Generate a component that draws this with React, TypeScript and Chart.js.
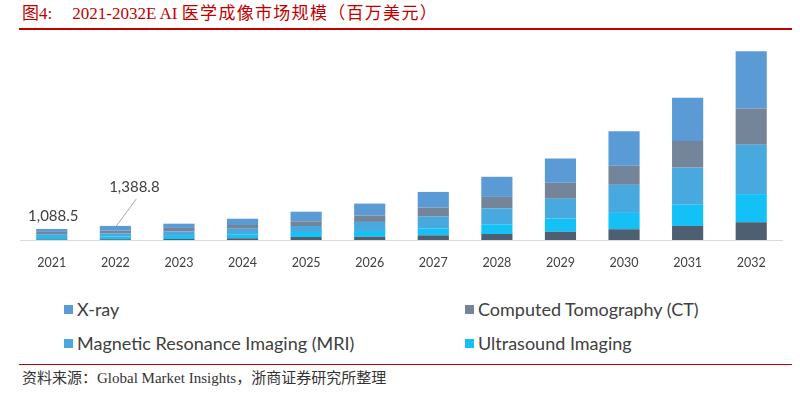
import React, { useEffect, useRef } from "react";
import { Chart, registerables } from "chart.js";

Chart.register(...registerables);

const years = ["2021", "2022", "2023", "2024", "2025", "2026", "2027", "2028", "2029", "2030", "2031", "2032"];
const others = [60, 80, 100, 170, 300, 330, 460, 590, 820, 1060, 1390, 1750];
const ultrasound = [240, 260, 300, 350, 490, 560, 690, 960, 1290, 1610, 2080, 2770];
const mri = [270, 320, 430, 590, 590, 890, 1150, 1580, 1950, 2770, 3660, 4880];
const ct = [230, 270, 360, 370, 460, 620, 890, 1120, 1580, 1880, 2640, 3560];
const xray = [288.5, 458.8, 420, 620, 950, 1190, 1550, 1980, 2400, 3400, 4260, 5640];

const legendNames = ["X-ray", "Computed Tomography (CT)", "Magnetic Resonance Imaging (MRI)", "Ultrasound Imaging"];
const legendColors = ["#5b9bd5", "#748599", "#48a9df", "#13c1f7"];
const othersColor = "#4d5f71";
const labeledIndexes = [0, 1];

const titleLabel = "图4:";
const titleLatin = "2021-2032E AI ";
const titleCjk = "医学成像市场规模（百万美元）";
const sourceText = "资料来源：Global Market Insights，浙商证券研究所整理";

const totals = years.map((_, i) => others[i] + ultrasound[i] + mri[i] + ct[i] + xray[i]);

const fmt = (v: number) =>
  v.toLocaleString("en-US", { minimumFractionDigits: 1, maximumFractionDigits: 1 });

const labelPlugin = {
  id: "totalLabels",
  afterDatasetsDraw(chart: any) {
    const ctx = chart.ctx;
    const xs = chart.scales.x;
    const ys = chart.scales.y;
    ctx.save();
    ctx.font = "15px Lato";
    ctx.fillStyle = "#404040";
    ctx.textAlign = "center";
    ctx.textBaseline = "middle";
    labeledIndexes.forEach((i, k) => {
      const x = xs.getPixelForValue(i);
      const top = ys.getPixelForValue(totals[i]);
      if (k === 0) {
        ctx.fillText(fmt(totals[i]), x + 1.5, top - 13);
      } else {
        ctx.strokeStyle = "#a6a6a6";
        ctx.lineWidth = 1;
        ctx.beginPath();
        ctx.moveTo(x + 1, top);
        ctx.lineTo(x + 21, top - 27);
        ctx.stroke();
        ctx.fillText(fmt(totals[i]), x + 19, top - 39);
      }
    });
    ctx.restore();
  },
};

function ChartBox() {
  const ref = useRef<HTMLCanvasElement | null>(null);
  useEffect(() => {
    if (!ref.current) return;
    const ds = (label: string, data: number[], color: string) => ({
      label,
      data,
      backgroundColor: color,
      borderWidth: 0,
      categoryPercentage: 1,
      barPercentage: 0.49,
    });
    const chart = new Chart(ref.current, {
      type: "bar",
      data: {
        labels: years,
        datasets: [
          ds("Others", others, othersColor),
          ds(legendNames[3], ultrasound, legendColors[3]),
          ds(legendNames[2], mri, legendColors[2]),
          ds(legendNames[1], ct, legendColors[1]),
          ds(legendNames[0], xray, legendColors[0]),
        ],
      },
      options: {
        animation: false,
        responsive: false,
        maintainAspectRatio: false,
        layout: { padding: 0 },
        plugins: { legend: { display: false }, tooltip: { enabled: false } },
        scales: {
          x: {
            stacked: true,
            grid: { display: false, drawTicks: false, tickLength: 0 },
            border: { display: true, color: "#d9d9d9", width: 1 },
            ticks: { color: "#404040", font: { family: "Lato", size: 12.5 }, padding: 15 },
          },
          y: {
            stacked: true,
            display: false,
            min: 0,
            max: 20700,
          },
        },
      },
      plugins: [labelPlugin],
    });
    return () => chart.destroy();
  }, []);
  return (
    <canvas
      ref={ref}
      width={763}
      height={255}
      style={{ position: "absolute", left: 20, top: 30, width: 763, height: 255 }}
    />
  );
}

export default function App() {
  const legendPos = [
    { left: 64, top: 299 },
    { left: 465, top: 299 },
    { left: 64, top: 333 },
    { left: 465, top: 333 },
  ];
  const serif = "'Liberation Serif', 'Noto Sans CJK SC', serif";
  return (
    <div
      style={{
        position: "absolute",
        left: 0,
        top: 0,
        width: 800,
        height: 393,
        background: "#fff",
        overflow: "hidden",
      }}
    >
      <div
        style={{
          position: "absolute",
          left: 22,
          top: 3,
          fontFamily: serif,
          fontSize: 17,
          color: "#c00000",
          whiteSpace: "pre",
          lineHeight: "22px",
        }}
      >
        <span style={{ marginRight: 20 }}>{titleLabel}</span>
        <span>{titleLatin}</span>
        <span style={{ letterSpacing: 1.3 }}>{titleCjk}</span>
      </div>
      <div style={{ position: "absolute", left: 19, top: 28, width: 773, height: 2, background: "#c00000" }} />
      <ChartBox />
      {legendNames.map((name, i) => (
        <div
          key={name}
          style={{
            position: "absolute",
            left: legendPos[i].left,
            top: legendPos[i].top,
            height: 20,
            display: "flex",
            alignItems: "center",
            fontFamily: "Lato",
            fontSize: 18,
            color: "#404040",
            whiteSpace: "nowrap",
          }}
        >
          <span style={{ display: "inline-block", width: 9, height: 9, background: legendColors[i], marginRight: 4 }} />
          {name}
        </div>
      ))}
      <div style={{ position: "absolute", left: 19, top: 364, width: 773, height: 1, background: "#c00000" }} />
      <div
        style={{
          position: "absolute",
          left: 22,
          top: 368,
          fontFamily: serif,
          fontSize: 15,
          color: "#333",
          whiteSpace: "pre",
          lineHeight: "20px",
        }}
      >
        {sourceText}
      </div>
    </div>
  );
}
